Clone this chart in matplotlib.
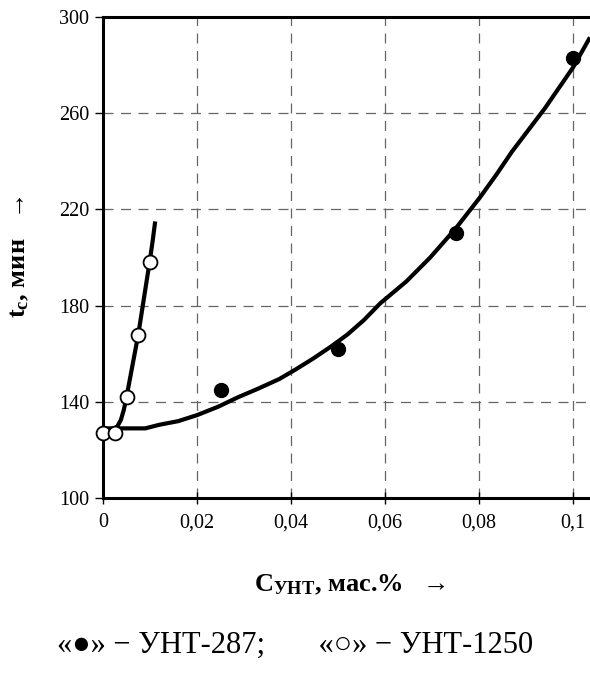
import matplotlib
matplotlib.use('Agg')
import matplotlib.pyplot as plt

plt.rcParams['font.family'] = ['Liberation Serif', 'DejaVu Serif']
plt.rcParams['mathtext.fontset'] = 'custom'
plt.rcParams['mathtext.rm'] = 'Liberation Serif'
plt.rcParams['mathtext.bf'] = 'Liberation Serif:bold'

# measured points, УНТ-287 (filled) and УНТ-1250 (open)
x_287 = [0.025, 0.05, 0.075, 0.1]
t_287 = [145, 162, 210, 283]
x_1250 = [0.0, 0.0025, 0.005, 0.0075, 0.01]
t_1250 = [127, 127, 142, 168, 198]

# trend curves
curve_287_x = [0.0, 0.0025, 0.009, 0.012, 0.016, 0.02, 0.0245, 0.0288,
               0.033, 0.0375, 0.041, 0.0447, 0.0485, 0.052, 0.0555, 0.059,
               0.0645, 0.0696, 0.075, 0.0802, 0.0837, 0.087, 0.0905, 0.094,
               0.097, 0.1, 0.1036]
curve_287_t = [129, 129, 129, 130.5, 132, 134.5, 138, 142,
               145.5, 149.5, 153.5, 158, 163, 168, 174, 181,
               190, 200, 212, 225, 234.5, 244, 253, 262,
               270.5, 279, 291.5]
curve_1250_x = [0.0025, 0.0031, 0.0038, 0.0044, 0.005, 0.0062, 0.0075, 0.0087,
                0.0099, 0.0105, 0.0111]
curve_1250_t = [129, 130, 132.5, 136.5, 142, 154.5, 168, 183,
                198, 206, 215]

xticks = [0, 0.02, 0.04, 0.06, 0.08, 0.1]
xtick_labels = ['0', '0,02', '0,04', '0,06', '0,08', '0,1']
yticks = [100, 140, 180, 220, 260, 300]

fig = plt.figure(figsize=(5.9, 6.75), dpi=100)
ax = fig.add_axes([0.1746, 0.262, 0.8254, 0.713])

ax.plot(curve_287_x, curve_287_t, color='black', lw=3, solid_capstyle='butt', zorder=3)
ax.plot(curve_1250_x, curve_1250_t, color='black', lw=3, solid_capstyle='butt', zorder=3)
ax.plot(x_287, t_287, 'o', color='black', ms=10, zorder=4)
ax.plot(x_1250, t_1250, 'o', mfc='white', mec='black', mew=1.3, ms=10, zorder=5,
        clip_on=False)

ax.set_xlim(0, 0.1036)
ax.set_ylim(100, 300)
ax.set_xticks(xticks)
ax.set_xticklabels(xtick_labels)
ax.set_yticks(yticks)

ax.grid(True, color='#666666', lw=0.9, linestyle=(0, (8, 6)))
ax.set_axisbelow(True)
for s in ['left', 'bottom', 'top']:
    ax.spines[s].set_linewidth(2.2)
ax.spines['right'].set_visible(False)
ax.tick_params(axis='x', direction='inout', length=8, width=1, labelsize=14.5, pad=7)
ax.tick_params(axis='y', direction='out', length=6, width=1, labelsize=14.5, pad=4)

fig.text(0.033, 0.619, r'$\mathbf{t_{c}}$, мин   →', rotation=90, ha='center',
         va='center', fontsize=19, fontweight='bold')
fig.text(0.593, 0.133, r'$\mathbf{C_{УНТ}}$, мас.%   →', ha='center', va='center',
         fontsize=19, fontweight='bold')
fig.text(0.5, 0.044, '«●» − УНТ-287;       «○» − УНТ-1250', ha='center',
         va='center', fontsize=22)

fig.savefig('out.png', dpi=100)
